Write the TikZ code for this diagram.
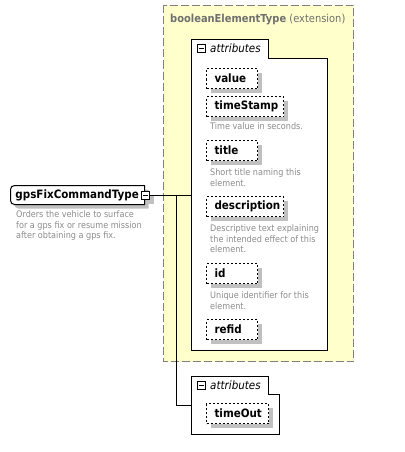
\documentclass[tikz,border=0pt]{standalone}
\usepackage{fontspec}
\setmainfont{DejaVu Sans}[FakeStretch=0.9]
\usetikzlibrary{shadows}
\definecolor{ylw}{HTML}{FFFFCC}
\definecolor{yedge}{HTML}{808080}
\definecolor{descgray}{HTML}{8C8C8C}
\definecolor{titlegray}{HTML}{707070}
\definecolor{shg}{HTML}{C0C0C0}
\begin{document}
\begin{tikzpicture}[x=1pt,y=-1pt,
  ybox/.style={draw=yedge, fill=ylw, line width=1pt, dash pattern=on 8pt off 3pt},
  cont/.style={draw=black, fill=white, line width=1pt},
  minus/.style={draw=black, fill=white, minimum size=8pt, inner sep=0pt, outer sep=0pt, line width=1pt,
    path picture={\draw[line width=1pt] ([xshift=1.5pt]path picture bounding box.west) -- ([xshift=-1.5pt]path picture bounding box.east);}},
  tabtext/.style={font=\itshape\fontsize{11.5}{13}\selectfont, inner sep=0pt, anchor=west},
  shad/.style={drop shadow={shadow xshift=4pt, shadow yshift=-4pt, fill=shg, opacity=1}},
  attrbox/.style={draw=black, fill=white, line width=1pt, dash pattern=on 2pt off 2pt,
    font=\bfseries\fontsize{11.5}{13}\selectfont, minimum height=20pt, inner xsep=8pt, inner ysep=0pt,
    outer sep=0pt, align=left, anchor=north west, shad},
  desc/.style={font=\fontsize{9}{10.5}\selectfont, text=descgray, inner sep=0pt, anchor=north west, align=left},
  gstyle/.style={anchor=west, minimum height=19pt, text width=124pt, inner xsep=5pt, inner ysep=0pt,
    outer sep=0pt, align=left, font=\bfseries\fontsize{11.5}{13}\selectfont},
  conn/.style={draw=black, line width=1pt}
]
\useasboundingbox (0,0) rectangle (404,452);

% extension box
\draw[ybox] (163.5,5.5) rectangle (353.5,361.5);
\node[anchor=west, inner sep=0pt, text=titlegray, font=\fontsize{11}{13}\selectfont] (ext) at (170,20) {{\bfseries booleanElementType} (extension)};

% connectors
\coordinate (A1) at (191.5,195.5);
\coordinate (J) at (176.5,195.5);
\coordinate (B1) at (191.5,405.5);

% main element
\node[gstyle] (g) at (10.5,195) {gpsFixCommandType};
\draw[line width=1pt, fill=white, shad, rounded corners=4pt] (g.south) -- (g.south west) -- (g.north west) -- (g.north) [sharp corners] -- (g.north east) -- (g.south east) -- cycle;
\node[gstyle] at (10.5,195) {gpsFixCommandType};
\node[minus, shad] (gm) at (145.5,195.5) {};
\node[desc] (gdesc) at (16,210.5) {Orders the vehicle to surface\\for a gps fix or resume mission\\after obtaining a gps fix.};

\draw[conn] (gm.east) -- (A1);
\draw[conn] (J) |- (B1);

% attributes container A
\draw[cont] (191.5,39.5) -- (268.5,39.5) -- (268.5,58.5) -- (327.5,58.5) -- (327.5,350.5) -- (191.5,350.5) -- cycle;
\node[minus] (mA) at (201.5,48.5) {};
\node[tabtext] (tA) at (210,48) {attributes};

\node[attrbox, text width=35pt] (value) at (206.5,68.5) {value};
\node[attrbox, text width=61pt] (timeStamp) at (206.5,96.5) {timeStamp};
\node[desc] (dTS) at (210,122.5) {Time value in seconds.};
\node[attrbox, text width=35pt] (title) at (206.5,140.5) {title};
\node[desc] (dT) at (210,168.5) {Short title naming this\\element.};
\node[attrbox, text width=61pt] (description) at (206.5,196.5) {description};
\node[desc] (dD) at (210,224.5) {Descriptive text explaining\\the intended effect of this\\element.};
\node[attrbox, text width=35pt] (id) at (206.5,263.5) {id};
\node[desc] (dI) at (210,291.5) {Unique identifier for this\\element.};
\node[attrbox, text width=35pt] (refid) at (206.5,319.5) {refid};

% attributes container B
\draw[cont] (191.5,376.5) -- (268.5,376.5) -- (268.5,394.5) -- (279.5,394.5) -- (279.5,434.5) -- (191.5,434.5) -- cycle;
\node[minus] (mB) at (201.5,385.5) {};
\node[tabtext] (tB) at (210,385) {attributes};
\node[attrbox, text width=46pt] (timeOut) at (206.5,403.5) {timeOut};
\end{tikzpicture}
\end{document}
